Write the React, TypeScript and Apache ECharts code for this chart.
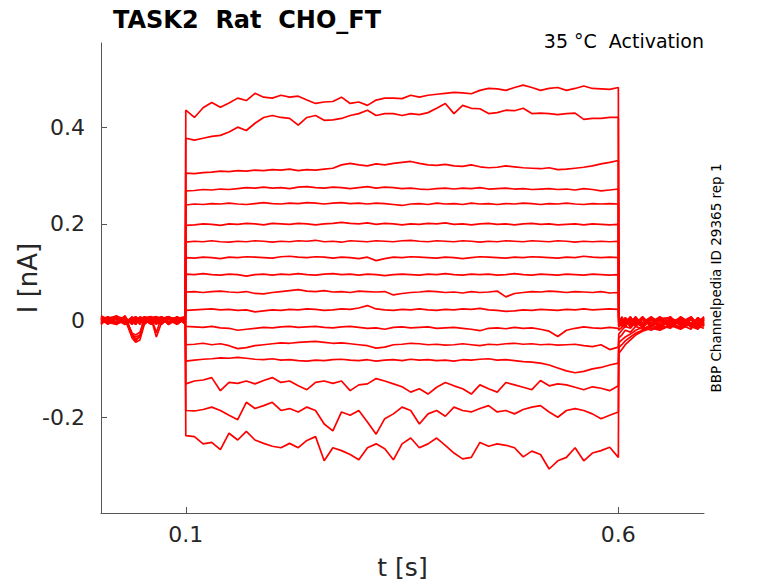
import {useEffect, useRef} from "react";
import * as echarts from "echarts";

// sample times [s]
const preT = [0.002, 0.01, 0.02, 0.03, 0.038, 0.042, 0.047, 0.052, 0.06, 0.066, 0.072, 0.08, 0.09, 0.0995];
const stepT = [
    0.1, 0.11, 0.12, 0.13, 0.14, 0.15, 0.16, 0.17, 0.18, 0.19,
    0.2, 0.21, 0.22, 0.23, 0.24, 0.25, 0.26, 0.27, 0.28, 0.29,
    0.3, 0.31, 0.32, 0.33, 0.34, 0.35, 0.36, 0.37, 0.38, 0.39,
    0.4, 0.41, 0.42, 0.43, 0.44, 0.45, 0.46, 0.47, 0.48, 0.49,
    0.5, 0.51, 0.52, 0.53, 0.54, 0.55, 0.56, 0.57, 0.58, 0.59, 0.6,
];
const postT = [0.6005, 0.604, 0.608, 0.614, 0.62, 0.628, 0.638, 0.648, 0.66, 0.672, 0.684, 0.692, 0.699];

// current [nA] before the step, one row per sweep (top sweep first)
const preCurrent = [
    [0.004, -0.006, 0.008, -0.004, 0.002, -0.008, 0.006, -0.002, 0.004, -0.006, 0.002, 0.008, -0.004, 0.002],
    [-0.008, 0.006, -0.004, 0.01, -0.03, -0.034, -0.03, 0.004, -0.006, 0.002, 0.008, -0.004, 0.006, -0.002],
    [0.006, -0.002, 0.004, -0.008, 0.004, 0.002, -0.006, 0.008, 0.002, -0.004, 0.006, -0.008, 0.004, 0.006],
    [-0.004, 0.008, -0.006, 0.002, -0.036, -0.045, -0.04, -0.008, 0.004, -0.034, -0.004, 0.006, -0.002, 0.004],
    [0.002, -0.008, 0.006, 0.004, -0.004, 0.008, 0.002, -0.006, 0.008, -0.002, 0.004, -0.006, 0.008, -0.004],
    [0.01, 0.002, -0.006, 0.006, -0.026, -0.03, -0.024, 0.002, -0.008, 0.006, -0.002, 0.004, -0.008, 0.006],
    [-0.006, 0.004, 0.01, -0.004, 0.006, -0.004, 0.008, 0.004, -0.002, 0.008, -0.006, 0.002, 0.006, -0.006],
    [0.004, -0.004, -0.008, 0.006, -0.032, -0.038, -0.034, -0.004, 0.006, -0.025, 0.008, -0.006, 0.004, 0.002],
    [-0.002, 0.006, 0.002, -0.006, 0.004, 0.008, -0.004, 0.006, -0.004, 0.002, -0.008, 0.006, -0.002, 0.008],
    [0.008, -0.004, 0.004, 0.002, -0.008, 0.002, 0.006, -0.008, 0.004, 0.006, 0.002, -0.004, 0.008, -0.006],
    [-0.006, 0.002, -0.002, 0.008, -0.03, -0.042, -0.032, 0.006, 0.002, -0.008, 0.004, 0.008, -0.006, 0.004],
    [0.002, 0.008, -0.006, -0.002, 0.006, -0.006, 0.004, 0.002, -0.006, 0.004, 0.008, -0.002, 0.002, -0.004],
    [0.006, -0.006, 0.008, 0.004, -0.002, 0.004, -0.008, 0.006, 0.008, -0.006, -0.004, 0.006, -0.008, 0.006],
    [-0.004, 0.004, 0.002, -0.008, 0.008, -0.002, 0.002, -0.004, 0.002, 0.004, 0.006, -0.008, 0.004, 0.008],
    [0.004, -0.002, -0.004, 0.006, -0.006, 0.006, -0.002, 0.008, -0.006, -0.002, -0.006, 0.004, 0.006, -0.008],
    [-0.008, 0.006, 0.006, -0.004, 0.002, -0.008, 0.004, -0.006, 0.006, 0.008, 0.004, -0.002, -0.006, 0.004],
    [0.006, 0.002, -0.008, 0.004, -0.004, 0.004, -0.006, 0.002, -0.008, 0.002, -0.002, 0.008, 0.002, -0.002],
];

// current [nA] during the voltage step
const stepCurrent = [
    [0.435, 0.42, 0.44, 0.451, 0.441, 0.45, 0.46, 0.455, 0.47, 0.462, 0.46, 0.466, 0.462, 0.464, 0.456, 0.449, 0.452, 0.453, 0.462, 0.449, 0.452, 0.445, 0.456, 0.46, 0.46, 0.459, 0.466, 0.462, 0.466, 0.468, 0.47, 0.472, 0.471, 0.469, 0.476, 0.48, 0.479, 0.476, 0.482, 0.487, 0.482, 0.476, 0.48, 0.482, 0.476, 0.48, 0.485, 0.48, 0.479, 0.478, 0.482],
    [0.377, 0.373, 0.377, 0.381, 0.383, 0.39, 0.4, 0.393, 0.408, 0.42, 0.424, 0.42, 0.418, 0.404, 0.42, 0.424, 0.414, 0.415, 0.418, 0.424, 0.428, 0.435, 0.424, 0.428, 0.428, 0.424, 0.428, 0.426, 0.43, 0.439, 0.449, 0.428, 0.445, 0.439, 0.438, 0.428, 0.43, 0.435, 0.434, 0.439, 0.428, 0.429, 0.428, 0.426, 0.428, 0.429, 0.416, 0.418, 0.418, 0.42, 0.42],
    [0.305, 0.304, 0.306, 0.307, 0.309, 0.308, 0.31, 0.309, 0.311, 0.31, 0.312, 0.311, 0.313, 0.31, 0.312, 0.311, 0.313, 0.315, 0.322, 0.325, 0.322, 0.32, 0.324, 0.322, 0.325, 0.327, 0.329, 0.325, 0.322, 0.321, 0.323, 0.32, 0.319, 0.322, 0.318, 0.316, 0.317, 0.32, 0.318, 0.316, 0.315, 0.314, 0.316, 0.312, 0.313, 0.315, 0.317, 0.32, 0.324, 0.327, 0.331],
    [0.268, 0.269, 0.271, 0.27, 0.272, 0.271, 0.273, 0.275, 0.274, 0.276, 0.274, 0.275, 0.273, 0.276, 0.277, 0.275, 0.274, 0.276, 0.275, 0.273, 0.275, 0.277, 0.274, 0.276, 0.275, 0.273, 0.274, 0.272, 0.271, 0.273, 0.274, 0.272, 0.274, 0.273, 0.275, 0.272, 0.273, 0.274, 0.272, 0.273, 0.271, 0.272, 0.273, 0.271, 0.272, 0.27, 0.273, 0.271, 0.268, 0.27, 0.272],
    [0.239, 0.241, 0.24, 0.242, 0.241, 0.243, 0.241, 0.24, 0.242, 0.244, 0.242, 0.241, 0.243, 0.242, 0.244, 0.243, 0.241, 0.243, 0.244, 0.242, 0.243, 0.241, 0.243, 0.242, 0.24, 0.238, 0.241, 0.242, 0.24, 0.243, 0.241, 0.242, 0.24, 0.243, 0.241, 0.242, 0.24, 0.242, 0.241, 0.243, 0.242, 0.24, 0.242, 0.241, 0.243, 0.241, 0.24, 0.242, 0.241, 0.242, 0.241],
    [0.197, 0.198, 0.2, 0.199, 0.197, 0.2, 0.199, 0.201, 0.2, 0.198, 0.201, 0.2, 0.199, 0.201, 0.2, 0.198, 0.2, 0.201, 0.203, 0.201, 0.2, 0.202, 0.199, 0.201, 0.2, 0.198, 0.2, 0.199, 0.201, 0.2, 0.202, 0.199, 0.2, 0.198, 0.2, 0.201, 0.199, 0.2, 0.198, 0.2, 0.201, 0.199, 0.2, 0.198, 0.199, 0.2, 0.198, 0.2, 0.199, 0.198, 0.199],
    [0.162, 0.164, 0.163, 0.165, 0.163, 0.162, 0.164, 0.163, 0.165, 0.164, 0.162, 0.164, 0.163, 0.165, 0.164, 0.166, 0.163, 0.164, 0.162, 0.165, 0.164, 0.163, 0.165, 0.164, 0.163, 0.165, 0.166, 0.164, 0.163, 0.165, 0.164, 0.163, 0.165, 0.164, 0.162, 0.164, 0.163, 0.165, 0.164, 0.163, 0.165, 0.164, 0.163, 0.165, 0.164, 0.162, 0.164, 0.163, 0.164, 0.163, 0.164],
    [0.13, 0.129, 0.131, 0.13, 0.128, 0.131, 0.13, 0.132, 0.131, 0.13, 0.129, 0.132, 0.133, 0.131, 0.13, 0.132, 0.131, 0.129, 0.131, 0.13, 0.128, 0.131, 0.124, 0.128, 0.131, 0.13, 0.132, 0.131, 0.13, 0.129, 0.131, 0.13, 0.128, 0.13, 0.132, 0.131, 0.13, 0.129, 0.131, 0.13, 0.132, 0.131, 0.13, 0.129, 0.131, 0.13, 0.133, 0.131, 0.13, 0.131, 0.13],
    [0.096, 0.095, 0.097, 0.095, 0.094, 0.096, 0.095, 0.092, 0.095, 0.096, 0.094, 0.096, 0.095, 0.097, 0.095, 0.094, 0.096, 0.097, 0.095, 0.096, 0.094, 0.096, 0.095, 0.093, 0.095, 0.096, 0.095, 0.094, 0.096, 0.095, 0.097, 0.095, 0.094, 0.096, 0.095, 0.096, 0.094, 0.095, 0.097, 0.095, 0.094, 0.096, 0.095, 0.094, 0.096, 0.095, 0.094, 0.096, 0.095, 0.094, 0.095],
    [0.059, 0.06, 0.058, 0.06, 0.061, 0.059, 0.058, 0.06, 0.056, 0.055, 0.058, 0.06, 0.062, 0.064, 0.061, 0.06, 0.062, 0.059, 0.06, 0.058, 0.061, 0.06, 0.059, 0.06, 0.053, 0.056, 0.058, 0.059, 0.061, 0.06, 0.058, 0.059, 0.057, 0.06, 0.058, 0.059, 0.061, 0.049, 0.056, 0.058, 0.06, 0.059, 0.061, 0.06, 0.058, 0.06, 0.059, 0.058, 0.06, 0.057, 0.058],
    [0.021, 0.022, 0.023, 0.024, 0.022, 0.023, 0.021, 0.022, 0.018, 0.02, 0.022, 0.021, 0.023, 0.022, 0.024, 0.023, 0.021, 0.022, 0.024, 0.023, 0.026, 0.031, 0.024, 0.022, 0.021, 0.023, 0.022, 0.024, 0.022, 0.021, 0.023, 0.022, 0.024, 0.023, 0.025, 0.022, 0.021, 0.019, 0.02, 0.022, 0.021, 0.023, 0.022, 0.021, 0.023, 0.022, 0.024, 0.022, 0.023, 0.024, 0.023],
    [-0.012, -0.013, -0.014, -0.012, -0.015, -0.016, -0.02, -0.018, -0.016, -0.014, -0.015, -0.013, -0.012, -0.014, -0.013, -0.012, -0.014, -0.015, -0.013, -0.012, -0.014, -0.016, -0.015, -0.018, -0.014, -0.013, -0.015, -0.014, -0.013, -0.016, -0.015, -0.014, -0.016, -0.018, -0.021, -0.016, -0.015, -0.017, -0.014, -0.016, -0.015, -0.018, -0.022, -0.033, -0.02, -0.016, -0.013, -0.015, -0.016, -0.014, -0.016],
    [-0.05, -0.049, -0.047, -0.05, -0.048, -0.052, -0.058, -0.056, -0.052, -0.05, -0.048, -0.046, -0.047, -0.045, -0.044, -0.043, -0.045, -0.047, -0.046, -0.048, -0.05, -0.052, -0.057, -0.055, -0.05, -0.049, -0.047, -0.048, -0.05, -0.049, -0.051, -0.05, -0.048, -0.05, -0.052, -0.049, -0.05, -0.048, -0.047, -0.049, -0.048, -0.05, -0.049, -0.051, -0.05, -0.049, -0.052, -0.054, -0.05, -0.06, -0.055],
    [-0.084, -0.082, -0.08, -0.079, -0.077, -0.078, -0.076, -0.078, -0.08, -0.081, -0.079, -0.082, -0.081, -0.083, -0.084, -0.082, -0.083, -0.081, -0.08, -0.082, -0.083, -0.081, -0.084, -0.082, -0.081, -0.083, -0.08, -0.082, -0.081, -0.083, -0.082, -0.084, -0.081, -0.082, -0.08, -0.079, -0.082, -0.081, -0.083, -0.085, -0.086, -0.088, -0.092, -0.098, -0.104, -0.108, -0.105, -0.1, -0.097, -0.092, -0.088],
    [-0.131, -0.125, -0.123, -0.118, -0.145, -0.128, -0.13, -0.125, -0.131, -0.124, -0.118, -0.128, -0.125, -0.135, -0.143, -0.128, -0.125, -0.13, -0.125, -0.145, -0.133, -0.131, -0.12, -0.125, -0.131, -0.137, -0.148, -0.141, -0.152, -0.138, -0.128, -0.135, -0.141, -0.152, -0.133, -0.141, -0.148, -0.128, -0.133, -0.138, -0.143, -0.124, -0.135, -0.131, -0.133, -0.138, -0.143, -0.137, -0.14, -0.145, -0.135],
    [-0.186, -0.187, -0.184, -0.179, -0.186, -0.196, -0.205, -0.169, -0.182, -0.176, -0.169, -0.186, -0.182, -0.189, -0.179, -0.186, -0.214, -0.228, -0.189, -0.196, -0.186, -0.21, -0.235, -0.203, -0.193, -0.179, -0.186, -0.214, -0.193, -0.186, -0.198, -0.179, -0.186, -0.189, -0.182, -0.176, -0.189, -0.186, -0.193, -0.184, -0.179, -0.176, -0.189, -0.2, -0.186, -0.182, -0.186, -0.193, -0.203, -0.196, -0.189],
    [-0.238, -0.24, -0.255, -0.252, -0.267, -0.233, -0.247, -0.229, -0.247, -0.254, -0.26, -0.263, -0.254, -0.263, -0.248, -0.24, -0.29, -0.263, -0.269, -0.277, -0.288, -0.263, -0.255, -0.265, -0.288, -0.255, -0.243, -0.263, -0.255, -0.243, -0.258, -0.274, -0.286, -0.283, -0.252, -0.26, -0.255, -0.258, -0.263, -0.282, -0.27, -0.277, -0.307, -0.29, -0.283, -0.263, -0.29, -0.274, -0.269, -0.262, -0.283],
];

// current [nA] after the step (tail currents)
const postCurrent = [
    [0.004, -0.008, 0.006, -0.012, 0.002, -0.004, 0.008, -0.01, 0.004, -0.006, 0.006, -0.012, 0.002],
    [-0.01, 0.006, -0.004, 0.008, -0.012, 0.004, -0.008, 0.006, -0.014, 0.002, -0.01, 0.004, -0.006],
    [0.008, -0.006, 0.002, -0.008, 0.006, -0.014, 0.002, -0.006, 0.008, -0.012, 0.004, -0.008, 0.006],
    [-0.004, 0.002, -0.012, 0.004, -0.006, 0.008, -0.012, 0.004, -0.004, 0.006, -0.014, 0.002, -0.01],
    [0.002, -0.012, 0.006, -0.004, 0.008, -0.01, 0.006, -0.014, 0.002, -0.008, 0.004, -0.004, 0.008],
    [-0.008, 0.004, -0.01, 0.006, -0.008, 0.002, -0.004, 0.008, -0.01, 0.004, -0.012, 0.006, -0.004],
    [0.006, -0.004, 0.002, -0.014, 0.004, -0.008, 0.006, -0.002, -0.012, 0.008, -0.006, 0.002, -0.012],
    [-0.012, 0.008, -0.006, 0.002, -0.01, 0.006, -0.014, 0.004, 0.006, -0.01, 0.002, -0.014, 0.004],
    [0.002, -0.01, 0.004, -0.006, 0.002, -0.012, 0.004, -0.01, 0.002, -0.004, 0.008, -0.008, -0.002],
    [-0.006, 0.004, -0.014, 0.006, -0.004, 0.004, -0.008, 0.002, -0.006, -0.014, 0.004, -0.006, 0.006],
    [-0.014, -0.006, 0.002, -0.01, 0.006, -0.012, 0.002, -0.016, 0.004, -0.002, -0.01, 0.006, -0.008],
    [-0.02, -0.014, -0.008, 0.002, -0.012, 0.004, -0.01, 0.002, -0.012, 0.006, -0.008, -0.016, 0.002],
    [-0.028, -0.02, -0.012, -0.016, -0.004, -0.014, 0.002, -0.012, -0.002, -0.016, 0.002, -0.006, -0.012],
    [-0.036, -0.03, -0.02, -0.024, -0.012, -0.018, -0.008, -0.016, 0.002, -0.008, -0.018, 0.004, -0.01],
    [-0.046, -0.04, -0.034, -0.028, -0.02, -0.014, -0.02, -0.01, -0.016, 0.002, -0.012, -0.018, -0.004],
    [-0.056, -0.05, -0.042, -0.034, -0.026, -0.02, -0.012, -0.018, -0.008, -0.016, -0.004, -0.012, -0.016],
    [-0.068, -0.06, -0.05, -0.04, -0.03, -0.022, -0.016, -0.02, -0.01, -0.018, -0.006, -0.014, -0.008],
];

const xTicks = [0.1, 0.6];
const yTicks = [-0.2, 0, 0.2, 0.4];

const FONT = "DejaVu Sans";
const INK = "#262626";
const AXIS = "#555555";

export default function App() {
    const domRef = useRef<HTMLDivElement>(null);

    useEffect(() => {
        if (!domRef.current) return;
        const chart = echarts.init(domRef.current, null, {renderer: "svg"});

        const series = stepCurrent.map((step, i) => ({
            type: "line",
            symbol: "none",
            silent: true,
            lineStyle: {color: "#ff0000", width: 1.7},
            data: [
                ...preT.map((t, j) => [t, preCurrent[i][j]]),
                ...stepT.map((t, j) => [t, step[j]]),
                ...postT.map((t, j) => [t, postCurrent[i][j]]),
            ],
        }));

        chart.setOption({
            animation: false,
            backgroundColor: "#ffffff",
            title: {
                text: "TASK2  Rat  CHO_FT",
                left: 113,
                top: 8,
                padding: 0,
                textStyle: {fontFamily: FONT, fontWeight: "bold", fontSize: 24, color: "#000"},
            },
            grid: {left: 101, right: 74, top: 43, bottom: 70, outerBoundsMode: "none"},
            xAxis: {
                type: "value",
                min: 0.002,
                max: 0.699,
                name: "t [s]",
                nameLocation: "middle",
                nameGap: 42,
                nameMoveOverlap: false,
                nameTextStyle: {fontFamily: FONT, fontSize: 25, color: INK},
                axisLine: {onZero: false, lineStyle: {color: AXIS, width: 1}},
                axisTick: {inside: true, length: 6, customValues: xTicks, lineStyle: {color: AXIS}},
                axisLabel: {customValues: xTicks, margin: 10, fontFamily: FONT, fontSize: 22, color: INK},
                splitLine: {show: false},
            },
            yAxis: {
                type: "value",
                min: -0.398,
                max: 0.574,
                name: "I [nA]",
                nameLocation: "middle",
                nameGap: 60,
                nameMoveOverlap: false,
                nameTextStyle: {fontFamily: FONT, fontSize: 26, color: INK},
                axisLine: {show: true, onZero: false, lineStyle: {color: AXIS, width: 1}},
                axisTick: {show: true, inside: true, length: 6, customValues: yTicks, lineStyle: {color: AXIS}},
                axisLabel: {customValues: yTicks, margin: 16, fontFamily: FONT, fontSize: 22, color: INK},
                splitLine: {show: false},
            },
            graphic: [
                {
                    type: "text",
                    x: 704,
                    y: 41,
                    style: {text: "35 °C  Activation", fontFamily: FONT, fontSize: 19, fill: "#000", align: "right", verticalAlign: "middle"},
                },
                {
                    type: "text",
                    x: 716,
                    y: 278,
                    rotation: Math.PI / 2,
                    style: {text: "BBP Channelpedia ID 29365 rep 1", fontFamily: FONT, fontSize: 13.5, fill: "#000", align: "center", verticalAlign: "middle"},
                },
            ],
            series,
        });

        return () => chart.dispose();
    }, []);

    return <div ref={domRef} style={{position: "fixed", left: 0, top: 0, width: 778, height: 583}} />;
}
